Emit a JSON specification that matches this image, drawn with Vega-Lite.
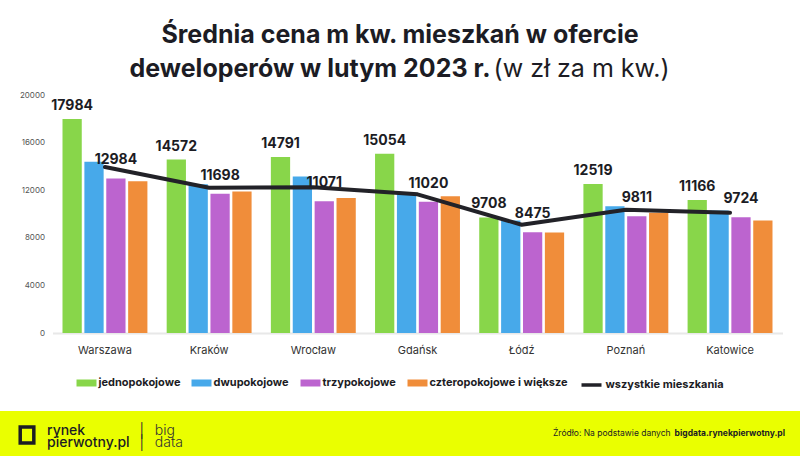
{
  "$schema": "https://vega.github.io/schema/vega-lite/v6.json",
  "background": "white",
  "padding": {"left": 0, "right": 0, "top": 23, "bottom": 0},
  "config": {
    "view": {"stroke": null},
    "font": "Inter",
    "legend": {"layout": {"bottom": {"anchor": "middle", "direction": "horizontal", "margin": 11}}}
  },
  "title": {
    "text": ["Średnia cena m kw. mieszkań w ofercie", "deweloperów w lutym 2023 r.\u2800\u2800\u2800\u2800\u2800\u2800\u2800\u2800\u2800\u2800"],
    "subtitle": "\u2800\u2800\u2800\u2800\u2800\u2800\u2800\u2800\u2800\u2800\u2800\u2800\u2800\u2800\u2800\u2800\u2800\u2800\u2800\u00a0\u00a0 (w zł za m kw.)",
    "anchor": "middle",
    "font": "Inter",
    "fontSize": 25,
    "fontWeight": "bold",
    "lineHeight": 34,
    "color": "#1c1c24",
    "subtitleFont": "Inter",
    "subtitleFontSize": 25,
    "subtitleFontWeight": "normal",
    "subtitleColor": "#1c1c24",
    "subtitlePadding": -25,
    "offset": 9
  },
  "datasets": {
    "prices": [
      {"miasto": "Warszawa", "typ": "jednopokojowe", "cena": 17984},
      {"miasto": "Warszawa", "typ": "dwupokojowe", "cena": 14400},
      {"miasto": "Warszawa", "typ": "trzypokojowe", "cena": 12984},
      {"miasto": "Warszawa", "typ": "czteropokojowe i większe", "cena": 12750},
      {"miasto": "Warszawa", "typ": "wszystkie mieszkania", "cena": 13950},
      {"miasto": "Kraków", "typ": "jednopokojowe", "cena": 14572},
      {"miasto": "Kraków", "typ": "dwupokojowe", "cena": 12500},
      {"miasto": "Kraków", "typ": "trzypokojowe", "cena": 11698},
      {"miasto": "Kraków", "typ": "czteropokojowe i większe", "cena": 11900},
      {"miasto": "Kraków", "typ": "wszystkie mieszkania", "cena": 12200},
      {"miasto": "Wrocław", "typ": "jednopokojowe", "cena": 14791},
      {"miasto": "Wrocław", "typ": "dwupokojowe", "cena": 13150},
      {"miasto": "Wrocław", "typ": "trzypokojowe", "cena": 11071},
      {"miasto": "Wrocław", "typ": "czteropokojowe i większe", "cena": 11350},
      {"miasto": "Wrocław", "typ": "wszystkie mieszkania", "cena": 12250},
      {"miasto": "Gdańsk", "typ": "jednopokojowe", "cena": 15054},
      {"miasto": "Gdańsk", "typ": "dwupokojowe", "cena": 11750},
      {"miasto": "Gdańsk", "typ": "trzypokojowe", "cena": 11020},
      {"miasto": "Gdańsk", "typ": "czteropokojowe i większe", "cena": 11500},
      {"miasto": "Gdańsk", "typ": "wszystkie mieszkania", "cena": 11650},
      {"miasto": "Łódź", "typ": "jednopokojowe", "cena": 9708},
      {"miasto": "Łódź", "typ": "dwupokojowe", "cena": 9450},
      {"miasto": "Łódź", "typ": "trzypokojowe", "cena": 8475},
      {"miasto": "Łódź", "typ": "czteropokojowe i większe", "cena": 8450},
      {"miasto": "Łódź", "typ": "wszystkie mieszkania", "cena": 9100},
      {"miasto": "Poznań", "typ": "jednopokojowe", "cena": 12519},
      {"miasto": "Poznań", "typ": "dwupokojowe", "cena": 10650},
      {"miasto": "Poznań", "typ": "trzypokojowe", "cena": 9811},
      {"miasto": "Poznań", "typ": "czteropokojowe i większe", "cena": 10100},
      {"miasto": "Poznań", "typ": "wszystkie mieszkania", "cena": 10350},
      {"miasto": "Katowice", "typ": "jednopokojowe", "cena": 11166},
      {"miasto": "Katowice", "typ": "dwupokojowe", "cena": 10300},
      {"miasto": "Katowice", "typ": "trzypokojowe", "cena": 9724},
      {"miasto": "Katowice", "typ": "czteropokojowe i większe", "cena": 9450},
      {"miasto": "Katowice", "typ": "wszystkie mieszkania", "cena": 10100}
    ],
    "footer": [{"stopka": "rynekpierwotny.pl"}]
  },
  "resolve": {
    "scale": {"color": "independent", "stroke": "independent"},
    "legend": {"color": "independent", "stroke": "independent"}
  },
  "vconcat": [
    {
      "hconcat": [
        {
          "width": 1,
          "height": 10,
          "data": {"name": "footer"},
          "mark": {"type": "text", "text": ""},
          "encoding": {}
        },
        {
          "width": 730,
          "height": 238,
          "data": {"name": "prices"},
          "layer": [
            {
              "transform": [{"filter": "datum.typ !== 'wszystkie mieszkania'"}],
              "mark": {"type": "bar"},
              "encoding": {
                "x": {
                  "field": "miasto", "type": "nominal",
                  "sort": ["Warszawa", "Kraków", "Wrocław", "Gdańsk", "Łódź", "Poznań", "Katowice"],
                  "scale": {"paddingInner": 0.185, "paddingOuter": 0.096},
                  "axis": {"title": null, "labelAngle": 0, "ticks": false, "domain": true, "domainColor": "#e8e8e8", "domainWidth": 2, "labelFont": "Inter", "labelFontSize": 11, "labelColor": "#333333", "labelPadding": 11}
                },
                "xOffset": {
                  "field": "typ", "type": "nominal",
                  "scale": {"domain": ["jednopokojowe", "dwupokojowe", "trzypokojowe", "czteropokojowe i większe"], "paddingInner": 0.12}
                },
                "y": {
                  "field": "cena", "type": "quantitative",
                  "scale": {"domain": [0, 20000], "nice": false},
                  "axis": {"title": null, "values": [0, 2000, 4000, 6000, 8000, 10000, 12000, 14000, 16000, 18000, 20000], "format": "d", "ticks": false, "domain": false, "grid": false, "labelFont": "Inter", "labelFontSize": 8, "labelColor": "#555555", "labelPadding": 8}
                },
                "color": {
                  "field": "typ", "type": "nominal",
                  "scale": {
                    "domain": ["jednopokojowe", "dwupokojowe", "trzypokojowe", "czteropokojowe i większe"],
                    "range": ["#88d64a", "#47a9ea", "#bc64cf", "#f08d3a"]
                  },
                  "legend": {
                    "orient": "bottom",
                    "direction": "horizontal",
                    "title": null,
                    "offset": 18,
                    "labelFont": "Inter",
                    "labelFontSize": 11,
                    "labelFontWeight": "bold",
                    "labelColor": "#1c1c24",
                    "labelLimit": 300,
                    "labelOffset": 2,
                    "columnPadding": 11,
                    "symbolType": "M-1,-0.35H1V0.35H-1Z",
                    "symbolSize": 400,
                    "symbolStrokeWidth": 0
                  }
                }
              }
            },
            {
              "transform": [{"filter": "datum.typ === 'wszystkie mieszkania'"}],
              "mark": {"type": "line", "strokeWidth": 4, "strokeCap": "round", "strokeJoin": "round"},
              "encoding": {
                "x": {"field": "miasto", "type": "nominal", "sort": ["Warszawa", "Kraków", "Wrocław", "Gdańsk", "Łódź", "Poznań", "Katowice"]},
                "y": {"field": "cena", "type": "quantitative"},
                "stroke": {
                  "field": "typ", "type": "nominal",
                  "scale": {"domain": ["wszystkie mieszkania"], "range": ["#222228"]},
                  "legend": {
                    "orient": "bottom",
                    "direction": "horizontal",
                    "title": null,
                    "offset": 18,
                    "labelFont": "Inter",
                    "labelFontSize": 11,
                    "labelFontWeight": "bold",
                    "labelColor": "#1c1c24",
                    "labelLimit": 300,
                    "labelOffset": 2,
                    "symbolType": "stroke",
                    "symbolSize": 400,
                    "symbolStrokeWidth": 3.5
                  }
                }
              }
            },
            {
              "transform": [{"filter": "datum.typ === 'jednopokojowe'"}],
              "mark": {"type": "text", "font": "Inter", "fontWeight": "bold", "fontSize": 14, "baseline": "alphabetic", "dy": -9, "color": "#1c1c24"},
              "encoding": {
                "x": {"field": "miasto", "type": "nominal", "sort": ["Warszawa", "Kraków", "Wrocław", "Gdańsk", "Łódź", "Poznań", "Katowice"]},
                "xOffset": {"field": "typ", "type": "nominal"},
                "y": {"field": "cena", "type": "quantitative"},
                "text": {"field": "cena", "type": "quantitative", "format": "d"}
              }
            },
            {
              "transform": [{"filter": "datum.typ === 'trzypokojowe'"}],
              "mark": {"type": "text", "font": "Inter", "fontWeight": "bold", "fontSize": 14, "baseline": "alphabetic", "dy": -14, "color": "#1c1c24"},
              "encoding": {
                "x": {"field": "miasto", "type": "nominal", "sort": ["Warszawa", "Kraków", "Wrocław", "Gdańsk", "Łódź", "Poznań", "Katowice"]},
                "xOffset": {"field": "typ", "type": "nominal"},
                "y": {"field": "cena", "type": "quantitative"},
                "text": {"field": "cena", "type": "quantitative", "format": "d"}
              }
            }
          ]
        }
      ],
      "spacing": 0
    },
    {
      "hconcat": [
        {
          "width": 47,
          "height": 48,
          "view": {"fill": "#eaff00", "stroke": null},
          "data": {"name": "footer"},
          "mark": {"type": "point", "shape": "M-0.41,-1H1.29V1H-0.41Z", "size": 256, "filled": false, "stroke": "#1c1c24", "strokeWidth": 3.5, "opacity": 1},
          "encoding": {}
        },
        {
          "width": 353,
          "height": 48,
          "view": {"fill": "#eaff00", "stroke": null},
          "data": {"name": "footer"},
          "mark": {"type": "text", "text": ""},
          "encoding": {},
          "title": {
            "text": ["rynek", "pierwotny.pl"],
            "subtitle": ["\u2800\u2800\u2800\u2800\u2800\u2800\u2800\u2800\u2800│\u00a0\u00a0big", "\u2800\u2800\u2800\u2800\u2800\u2800\u2800\u2800\u2800│\u00a0\u00a0data"],
            "orient": "bottom",
            "anchor": "start",
            "frame": "group",
            "offset": -35,
            "font": "Inter",
            "fontSize": 14,
            "fontWeight": 500,
            "lineHeight": 12,
            "color": "#1c1c24",
            "subtitleFont": "Inter",
            "subtitleFontSize": 14,
            "subtitleFontWeight": 300,
            "subtitleLineHeight": 12,
            "subtitleColor": "#333333",
            "subtitlePadding": -26
          }
        },
        {
          "width": 400,
          "height": 48,
          "view": {"fill": "#eaff00", "stroke": null},
          "data": {"name": "footer"},
          "mark": {"type": "text", "text": ""},
          "encoding": {},
          "title": {
            "text": "Źródło: Na podstawie danych \u2800\u2800\u2800\u2800\u2800\u2800\u2800\u2800\u2800\u2800\u2800\u2800\u2800\u2800\u2800\u2800",
            "subtitle": "bigdata.rynekpierwotny.pl",
            "orient": "bottom",
            "anchor": "end",
            "align": "right",
            "frame": "group",
            "offset": -30,
            "dx": -15,
            "font": "Inter",
            "fontSize": 8.5,
            "fontWeight": "normal",
            "color": "#1c1c24",
            "subtitleFont": "Inter",
            "subtitleFontSize": 8.5,
            "subtitleFontWeight": "bold",
            "subtitleColor": "#1c1c24",
            "subtitlePadding": -8.5
          }
        }
      ],
      "spacing": 0
    }
  ],
  "spacing": 19,
  "center": true
}
